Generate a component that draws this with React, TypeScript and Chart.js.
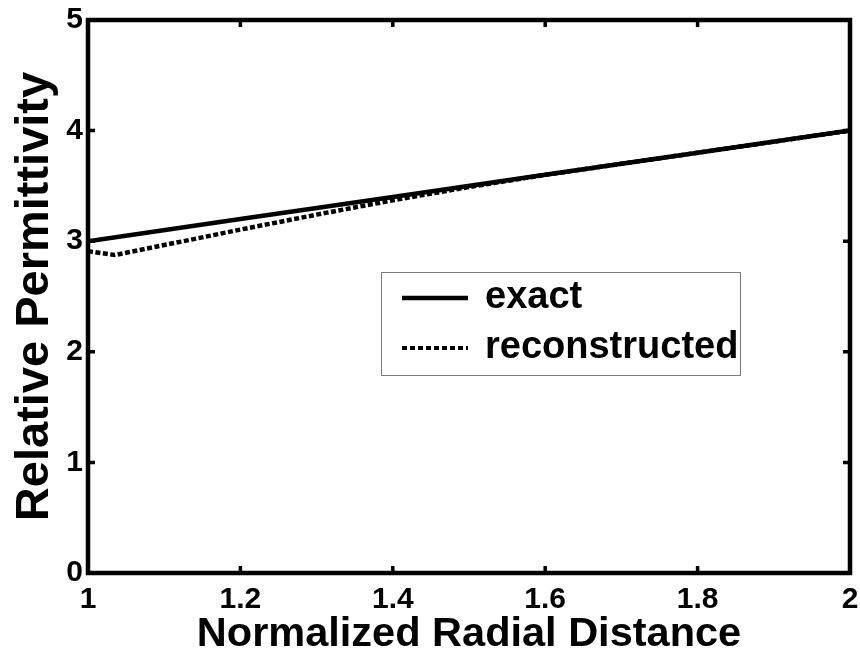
import React, { useEffect, useRef } from "react";
import { Chart, registerables } from "chart.js";

Chart.register(...registerables);

// Exact permittivity profile
const exactDistance = [1, 1.2, 1.4, 1.6, 1.8, 2];
const exactPermittivity = [3, 3.2, 3.4, 3.6, 3.8, 4];

// Reconstructed permittivity profile
const reconDistance = [1, 1.035, 1.1, 1.2, 1.3, 1.4, 1.5, 1.6, 1.7, 1.8, 1.9, 2];
const reconPermittivity = [2.91, 2.875, 2.965, 3.105, 3.24, 3.37, 3.49, 3.6, 3.7, 3.8, 3.9, 4.0];

const xTickValues = [1, 1.2, 1.4, 1.6, 1.8, 2];
const yTickValues = [0, 1, 2, 3, 4, 5];
const seriesNames = ["exact", "reconstructed"];

const FONT = "'Liberation Sans', Arial, Helvetica, sans-serif";

// Boxed axes with inward tick marks on all four sides
const framePlugin = {
  id: "frame",
  afterDraw(chart: any) {
    const { ctx, chartArea, scales } = chart;
    const { left, right, top, bottom } = chartArea;
    const tickLen = 7;
    ctx.save();
    ctx.strokeStyle = "#000";
    ctx.lineWidth = 3.5;
    ctx.beginPath();
    xTickValues.forEach((v) => {
      const px = scales.x.getPixelForValue(v);
      ctx.moveTo(px, bottom);
      ctx.lineTo(px, bottom - tickLen);
      ctx.moveTo(px, top);
      ctx.lineTo(px, top + tickLen);
    });
    yTickValues.forEach((v) => {
      const py = scales.y.getPixelForValue(v);
      ctx.moveTo(left, py);
      ctx.lineTo(left + tickLen, py);
      ctx.moveTo(right, py);
      ctx.lineTo(right - tickLen, py);
    });
    ctx.stroke();
    ctx.lineWidth = 4.5;
    ctx.lineJoin = "miter";
    ctx.strokeRect(left, top, right - left, bottom - top);
    ctx.restore();
  },
};

// Legend box placed inside the plot area
const legendPlugin = {
  id: "insideLegend",
  afterDraw(chart: any) {
    const { ctx } = chart;
    const boxL = 381, boxT = 272, boxR = 740, boxB = 375;
    ctx.save();
    ctx.fillStyle = "#fff";
    ctx.fillRect(boxL, boxT, boxR - boxL, boxB - boxT);
    ctx.strokeStyle = "#7a7a7a";
    ctx.lineWidth = 1;
    ctx.strokeRect(boxL + 0.5, boxT + 0.5, boxR - boxL, boxB - boxT);

    const rows = [298, 348];
    const fontSize = 38;
    chart.data.datasets.forEach((ds: any, i: number) => {
      const y = rows[i];
      ctx.strokeStyle = ds.borderColor;
      ctx.lineWidth = i === 0 ? 4.5 : 4;
      ctx.setLineDash(i === 0 ? [] : [5, 3]);
      ctx.beginPath();
      ctx.moveTo(402, y);
      ctx.lineTo(468, y);
      ctx.stroke();
      ctx.setLineDash([]);
      ctx.fillStyle = "#000";
      ctx.font = `bold ${fontSize}px ${FONT}`;
      ctx.textAlign = "left";
      ctx.textBaseline = "alphabetic";
      ctx.fillText(ds.label, 485, y + Math.round(fontSize * 0.27));
    });
    ctx.restore();
  },
};

export default function App() {
  const canvasRef = useRef<HTMLCanvasElement | null>(null);

  useEffect(() => {
    const canvas = canvasRef.current;
    if (!canvas) return;

    const exactPoints = exactDistance.map((x, i) => ({ x, y: exactPermittivity[i] }));
    const reconPoints = reconDistance.map((x, i) => ({ x, y: reconPermittivity[i] }));

    const chart = new Chart(canvas, {
      type: "line",
      data: {
        datasets: [
          {
            label: seriesNames[0],
            data: exactPoints,
            borderColor: "#000",
            borderWidth: 4.5,
            pointRadius: 0,
            tension: 0,
          },
          {
            label: seriesNames[1],
            data: reconPoints,
            borderColor: "#000",
            borderWidth: 4.5,
            borderDash: [5, 2.5],
            pointRadius: 0,
            tension: 0,
          },
        ],
      },
      options: {
        responsive: false,
        animation: false,
        layout: { padding: { top: 20, right: 10, left: 0, bottom: 0 } },
        plugins: {
          legend: { display: false },
          tooltip: { enabled: false },
        },
        scales: {
          x: {
            type: "linear",
            min: 1,
            max: 2,
            afterBuildTicks: (s: any) => {
              s.ticks = xTickValues.map((v) => ({ value: v }));
            },
            afterFit: (s: any) => {
              s.height = 91;
              s.paddingLeft = 0;
              s.paddingRight = 0;
            },
            grid: { display: false, drawTicks: false },
            border: { display: false },
            ticks: {
              color: "#000",
              font: { family: FONT, size: 30, weight: "bold" },
              padding: 9,
              maxRotation: 0,
              autoSkip: false,
              callback: (v: any) => String(v),
            },
            title: {
              display: true,
              text: "Normalized Radial Distance",
              color: "#000",
              font: { family: FONT, size: 41.5, weight: "bold" },
              padding: { top: 0, bottom: 5 },
            },
          },
          y: {
            type: "linear",
            min: 0,
            max: 5,
            afterBuildTicks: (s: any) => {
              s.ticks = yTickValues.map((v) => ({ value: v }));
            },
            afterFit: (s: any) => {
              s.width = 88;
              s.paddingTop = 0;
              s.paddingBottom = 0;
            },
            grid: { display: false, drawTicks: false },
            border: { display: false },
            ticks: {
              color: "#000",
              font: { family: FONT, size: 30, weight: "bold" },
              padding: 5,
              autoSkip: false,
              callback: (v: any) => String(v),
            },
            title: {
              display: true,
              text: "Relative Permittivity",
              color: "#000",
              font: { family: FONT, size: 47, weight: "bold" },
              padding: { top: 7, bottom: 0 },
            },
          },
        },
      },
      plugins: [framePlugin, legendPlugin],
    });

    return () => chart.destroy();
  }, []);

  return (
    <div style={{ position: "absolute", left: 0, top: 0, width: 860, height: 664, background: "#fff" }}>
      <canvas ref={canvasRef} width={860} height={664} style={{ display: "block" }} />
    </div>
  );
}
